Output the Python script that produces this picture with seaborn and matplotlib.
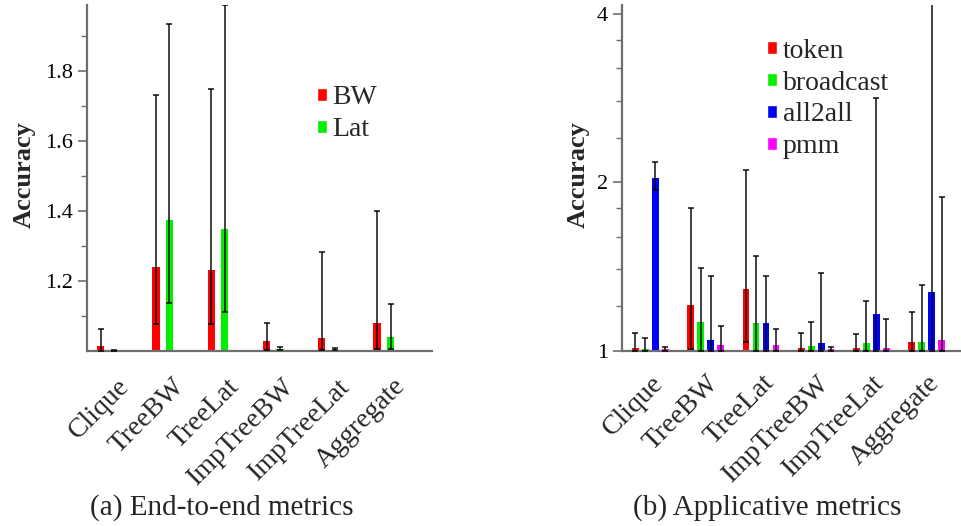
import matplotlib.pyplot as plt
from matplotlib.patches import Patch
from matplotlib.ticker import FixedLocator, NullFormatter, FixedFormatter
from matplotlib.transforms import ScaledTranslation
import pandas as pd
import seaborn as sns

categories = ["Clique", "TreeBW", "TreeLat", "ImpTreeBW", "ImpTreeLat", "Aggregate"]

# (a) end-to-end metrics: bar value, error low, error high
e2e_series = ["BW", "Lat"]
bw_mean = [1.015, 1.241, 1.232, 1.028, 1.038, 1.080]
bw_low = [1.000, 1.077, 1.077, 1.003, 1.003, 1.005]
bw_high = [1.062, 1.732, 1.750, 1.079, 1.282, 1.402]
lat_mean = [1.002, 1.375, 1.348, 1.005, 1.004, 1.041]
lat_low = [1.000, 1.138, 1.112, 1.002, 1.002, 1.005]
lat_high = [1.004, 1.935, 1.990, 1.011, 1.010, 1.134]

# (b) applicative metrics
app_series = ["token", "broadcast", "all2all", "pmm"]
token_mean = [1.012, 1.208, 1.288, 1.010, 1.010, 1.037]
token_low = [1.000, 1.006, 1.038, 1.000, 1.000, 1.000]
token_high = [1.074, 1.800, 2.100, 1.074, 1.071, 1.174]
broadcast_mean = [1.008, 1.126, 1.121, 1.018, 1.031, 1.037]
broadcast_low = [1.000, 1.000, 1.000, 1.000, 1.000, 1.000]
broadcast_high = [1.052, 1.405, 1.478, 1.124, 1.229, 1.313]
all2all_mean = [2.037, 1.045, 1.121, 1.032, 1.164, 1.273]
all2all_low = [1.940, 1.000, 1.000, 1.000, 1.000, 1.000]
all2all_high = [2.172, 1.361, 1.361, 1.376, 2.830, 4.160]
pmm_mean = [1.005, 1.022, 1.022, 1.005, 1.010, 1.045]
pmm_low = [1.000, 1.000, 1.000, 1.000, 1.000, 1.000]
pmm_high = [1.017, 1.109, 1.095, 1.017, 1.141, 1.880]

e2e_colors = ["#ff0000", "#00f000"]
app_colors = ["#ff0000", "#00f000", "#0000ff", "#ff00ff"]

sns.set_style("ticks")
plt.rcParams["font.family"] = ["Liberation Serif", "DejaVu Serif"]


def long_table(series, means, lows, highs):
    rows = []
    for name, m, lo, hi in zip(series, means, lows, highs):
        for c, v, l, h in zip(categories, m, lo, hi):
            rows.append({"cat": c, "series": name, "val": v, "lo": l, "hi": h})
    return pd.DataFrame(rows)


def draw_panel(ax, df, series, colors, width, gap, label_dx, label_pad):
    sns.barplot(data=df, x="cat", y="val", hue="series", hue_order=series,
                order=categories, palette=colors, width=width, gap=gap,
                saturation=1, errorbar=None, linewidth=0, ax=ax, legend=False)
    # error bars on top of each bar (one container per series)
    for name, cont in zip(series, ax.containers):
        sub = df[df.series == name].set_index("cat").loc[categories]
        xs = [b.get_x() + b.get_width() / 2 for b in cont]
        ys = sub.val.values
        yerr = [ys - sub.lo.values, sub.hi.values - ys]
        ax.errorbar(xs, ys, yerr=yerr, fmt="none", ecolor="black",
                    elinewidth=1.3, capsize=2.2, capthick=1.3, alpha=0.8, zorder=5)
    for s in ["top", "right"]:
        ax.spines[s].set_visible(False)
    for s in ["left", "bottom"]:
        ax.spines[s].set_color("#6e6e6e")
        ax.spines[s].set_linewidth(1.6)
    ax.tick_params(axis="x", length=0, pad=label_pad)
    ax.set_xticks(range(len(categories)))
    ax.set_xticklabels(categories, rotation=45, ha="right", va="baseline",
                       rotation_mode="anchor", fontsize=20)
    shift = ScaledTranslation(label_dx / 72, 0, ax.figure.dpi_scale_trans)
    for lab in ax.get_xticklabels():
        lab.set_transform(lab.get_transform() + shift)
    ax.set_xlabel("")
    ax.set_ylabel("Accuracy", fontsize=19, fontweight="bold")
    handles = [Patch(facecolor=c, label=n) for n, c in zip(series, colors)]
    return handles


def style_y(ax):
    ax.tick_params(axis="y", colors="#6e6e6e", labelcolor="black", labelsize=16,
                   length=6.5, width=1.2)
    ax.tick_params(axis="y", which="minor", colors="#6e6e6e", length=4, width=1.0)


fig = plt.figure(figsize=(9.62, 5.26), dpi=100)

# (a)
ax1 = fig.add_axes([0.0904, 0.3327, 0.3586, 0.6578])
df1 = long_table(e2e_series, [bw_mean, lat_mean], [bw_low, lat_low], [bw_high, lat_high])
h1 = draw_panel(ax1, df1, e2e_series, e2e_colors, 0.49, 0.47, 16, 26)
ax1.set_ylim(1.0, 1.99)
ax1.set_xlim(-0.37, 5.87)
ax1.yaxis.set_major_locator(FixedLocator([1.2, 1.4, 1.6, 1.8]))
ax1.yaxis.set_major_formatter(FixedFormatter(["1.2", "1.4", "1.6", "1.8"]))
ax1.yaxis.set_minor_locator(FixedLocator([1.1, 1.3, 1.5, 1.7, 1.9]))
style_y(ax1)
ax1.yaxis.set_label_coords(-0.148, 0.51)
ax1.legend(handles=h1, loc="upper left", bbox_to_anchor=(0.635, 0.8), frameon=False,
           fontsize=20, handlelength=0.35, handleheight=0.35, handletextpad=0.2,
           labelspacing=0.25, borderaxespad=0)

# (b)
ax2 = fig.add_axes([0.6463, 0.3333, 0.3537, 0.6572])
df2 = long_table(app_series,
                 [token_mean, broadcast_mean, all2all_mean, pmm_mean],
                 [token_low, broadcast_low, all2all_low, pmm_low],
                 [token_high, broadcast_high, all2all_high, pmm_high])
h2 = draw_panel(ax2, df2, app_series, app_colors, 0.723, 0.33, 10, 24)
ax2.set_yscale("log", base=2)
ax2.set_ylim(1.0, 4.15)
ax2.set_xlim(-0.52, 5.64)
ax2.yaxis.set_major_locator(FixedLocator([1, 2, 4]))
ax2.yaxis.set_major_formatter(FixedFormatter(["1", "2", "4"]))
ax2.yaxis.set_minor_locator(FixedLocator([1.2, 1.4, 1.6, 1.8, 2.4, 2.8, 3.2, 3.6]))
ax2.yaxis.set_minor_formatter(NullFormatter())
style_y(ax2)
ax2.yaxis.set_label_coords(-0.093, 0.51)
ax2.legend(handles=h2, loc="upper left", bbox_to_anchor=(0.395, 0.935), frameon=False,
           fontsize=20, handlelength=0.35, handleheight=0.35, handletextpad=0.2,
           labelspacing=0.25, borderaxespad=0)

fig.text(0.231, 0.036, "(a) End-to-end metrics", ha="center", va="center", fontsize=21)
fig.text(0.797, 0.036, "(b) Applicative metrics", ha="center", va="center", fontsize=21)

fig.savefig("out.png", dpi=100)
